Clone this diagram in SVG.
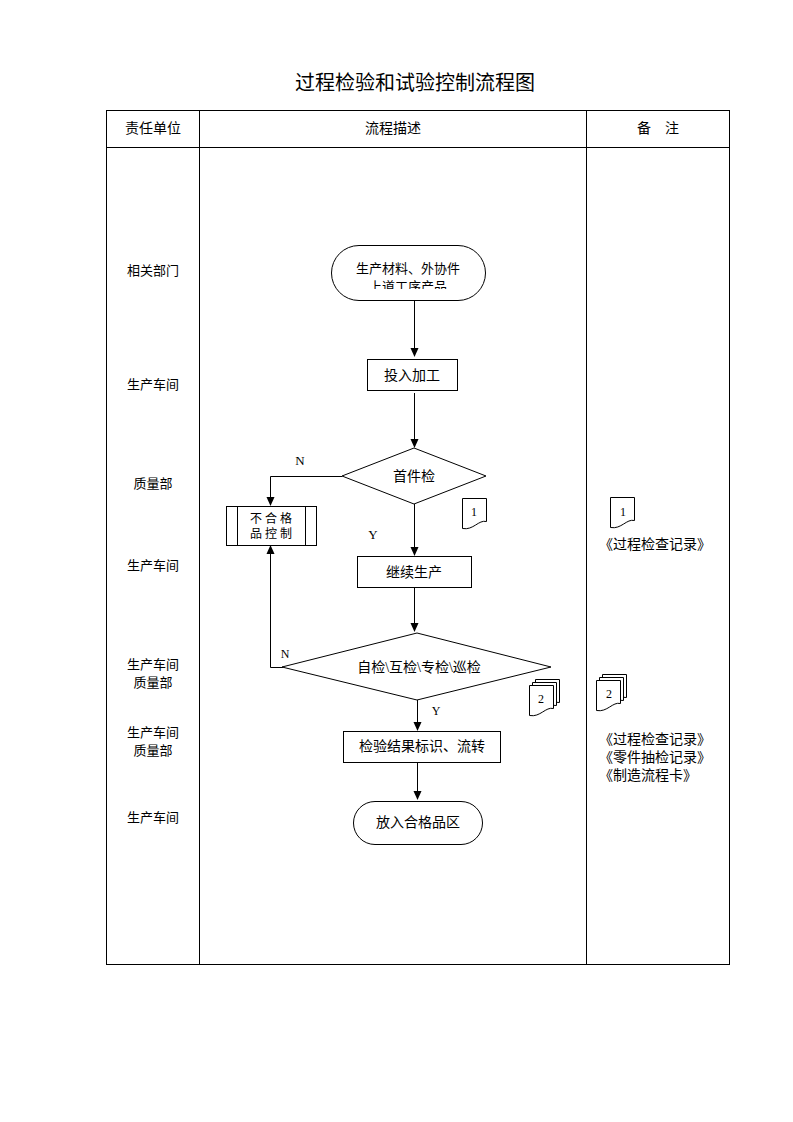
<svg xmlns="http://www.w3.org/2000/svg" width="793" height="1122" viewBox="0 0 793 1122">
<defs>
<style>
text{font-family:"Liberation Serif","Noto Sans CJK SC",serif;fill:#000;text-anchor:middle}
.t14{font-size:14px}
.t13{font-size:13px}
.t12{font-size:12px}
.ln{stroke:#000;stroke-width:1;fill:none}
.shp{stroke:#000;stroke-width:1;fill:#fff}
</style>
<marker id="arr" markerWidth="10" markerHeight="10" refX="8" refY="5" orient="auto" markerUnits="userSpaceOnUse">
<path d="M0,1 L9,5 L0,9 Z" fill="#000"/>
</marker>
<clipPath id="startclip"><rect x="331" y="245" width="155" height="44"/></clipPath>
<path id="doc" d="M0,0 H24 V23 C16,21 11,32 0,30 Z"/>
</defs>
<rect width="793" height="1122" fill="#fff"/>
<text x="415" y="90" style="font-size:20px">过程检验和试验控制流程图</text>

<g id="table">
<rect x="106.5" y="110.5" width="623" height="854" class="ln"/>
<line x1="199.5" y1="110" x2="199.5" y2="965" class="ln"/>
<line x1="586.5" y1="110" x2="586.5" y2="965" class="ln"/>
<line x1="106" y1="147.5" x2="730" y2="147.5" class="ln"/>
<text x="153" y="133" class="t14">责任单位</text>
<text x="393" y="133" class="t14">流程描述</text>
<text x="658" y="133" class="t14">备　注</text>
</g>

<g id="roles" class="t13">
<text x="153" y="275">相关部门</text>
<text x="153" y="389">生产车间</text>
<text x="153" y="488">质量部</text>
<text x="153" y="570">生产车间</text>
<text x="153" y="669">生产车间</text>
<text x="153" y="687">质量部</text>
<text x="153" y="737">生产车间</text>
<text x="153" y="755">质量部</text>
<text x="153" y="822">生产车间</text>
</g>

<g id="connectors">
<line x1="414.5" y1="300" x2="414.5" y2="356" class="ln" marker-end="url(#arr)"/>
<line x1="414.5" y1="393" x2="414.5" y2="447" class="ln" marker-end="url(#arr)"/>
<polyline points="342,476.5 270.5,476.5 270.5,505" class="ln" marker-end="url(#arr)"/>
<line x1="414.5" y1="504" x2="414.5" y2="555" class="ln" marker-end="url(#arr)"/>
<line x1="414.5" y1="588" x2="414.5" y2="631" class="ln" marker-end="url(#arr)"/>
<polyline points="283,667.5 270.5,667.5 270.5,546" class="ln" marker-end="url(#arr)"/>
<line x1="417.5" y1="700" x2="417.5" y2="730" class="ln" marker-end="url(#arr)"/>
<line x1="417.5" y1="763" x2="417.5" y2="799" class="ln" marker-end="url(#arr)"/>
<text x="300" y="465" class="t13">N</text>
<text x="373" y="539" class="t13">Y</text>
<text x="285" y="658" class="t12">N</text>
<text x="436" y="715" class="t12">Y</text>
</g>

<g id="start">
<rect x="331.5" y="245.5" width="154" height="55" rx="27.5" class="shp"/>
<g clip-path="url(#startclip)">
<text x="408" y="273" class="t13">生产材料、外协件</text>
<text x="408" y="291" class="t13">上道工序产品</text>
</g>
</g>

<g id="process1">
<rect x="367.5" y="359.5" width="90" height="31" class="shp"/>
<text x="412" y="380" class="t14">投入加工</text>
</g>

<g id="decision1">
<polygon points="414,448 486,476 414,504 342,476" class="shp"/>
<text x="414" y="481" class="t14">首件检</text>
</g>

<g id="reject">
<rect x="226.5" y="506.5" width="90" height="39" class="shp"/>
<line x1="237.5" y1="506" x2="237.5" y2="546" class="ln"/>
<line x1="305.5" y1="506" x2="305.5" y2="546" class="ln"/>
<text x="271" y="523" class="t12">不 合 格</text>
<text x="271" y="538" class="t12">品 控 制</text>
</g>

<g id="doc1">
<use href="#doc" x="462.5" y="498.5" class="shp"/>
<text x="474" y="516" class="t12">1</text>
</g>

<g id="process2">
<rect x="357.5" y="556.5" width="114" height="31" class="shp"/>
<text x="414" y="577" class="t14">继续生产</text>
</g>

<g id="decision2">
<polygon points="417,633 551,667 417,700 282,667" class="shp"/>
<text x="419" y="672" class="t14">自检\互检\专检\巡检</text>
</g>

<g id="doc2">
<use href="#doc" x="535.5" y="679.5" class="shp"/>
<use href="#doc" x="532.5" y="682.5" class="shp"/>
<use href="#doc" x="529.5" y="685.5" class="shp"/>
<text x="541" y="703" class="t12">2</text>
</g>

<g id="process3">
<rect x="343.5" y="731.5" width="157" height="31" class="shp"/>
<text x="422" y="751" class="t14">检验结果标识、流转</text>
</g>

<g id="end">
<rect x="353.5" y="801.5" width="129" height="43" rx="21.5" class="shp"/>
<text x="418" y="827" class="t14">放入合格品区</text>
</g>

<g id="note1">
<use href="#doc" x="610.5" y="497.5" class="shp"/>
<text x="623" y="516" class="t12">1</text>
<text x="655" y="549" class="t14">《过程检查记录》</text>
</g>

<g id="note2">
<use href="#doc" x="602.5" y="674.5" class="shp"/>
<use href="#doc" x="599.5" y="677.5" class="shp"/>
<use href="#doc" x="596.5" y="680.5" class="shp"/>
<text x="609" y="698" class="t12">2</text>
<text x="655" y="744" class="t14">《过程检查记录》</text>
<text x="655" y="762" class="t14">《零件抽检记录》</text>
<text x="648" y="780" class="t14">《制造流程卡》</text>
</g>
</svg>
